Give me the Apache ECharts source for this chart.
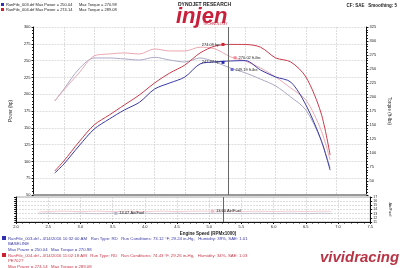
<!DOCTYPE html>
<html><head><meta charset="utf-8">
<script src="https://cdn.jsdelivr.net/npm/echarts@6/dist/echarts.min.js"></script>
<style>html,body{margin:0;padding:0;background:#fff}#c{width:400px;height:268px}</style>
</head><body><div id="c"></div>
<script>
const rpm = [2.35,2.5,2.75,3.0,3.25,3.5,3.75,4.0,4.25,4.5,4.75,5.0,5.25,5.5,5.75,6.0,6.25,6.5,6.75,6.9];
const powerRun1 = [82.7,96,123,148,163,176.5,188,207.7,216.7,225.6,245,248,249.4,250.0,236,225.6,218,184,132,87];
const powerRun2 = [85.7,100.6,128.9,154.2,169,184,199,216.7,231.5,243.4,261.3,271.7,274.1,274,270,254,248,225.6,172,109.5];
const torqueRun1 = [192.9,214,250,269.7,269.7,268,266,270.9,266,262.5,269.7,262.5,251.8,243,232,219.7,200,176.8,123,73];
const torqueRun2 = [192.9,212.5,242.9,273.3,276.8,278.6,276.8,285.8,282.2,282.2,289.0,285.8,272,264,251.8,235.7,216,194.7,141,87.5];
const afrRun1 = [13.0,13.1,13.0,13.1,13.0,13.1,13.0,13.1,13.0,13.1,13.0,13.07,13.1,13.0,13.1,13.0,13.1,13.0,13.1,13.0];
const afrRun2 = [13.4,13.5,13.6,13.5,13.6,13.5,13.6,13.5,13.6,13.5,13.6,13.6,13.6,13.5,13.6,13.5,13.6,13.5,13.6,13.5];
const xTicks = {min:2, max:7.5, step:0.5};
const powerTicks = {min:50, max:300, step:25};
const torqueTicks = {min:25, max:325, step:25};
const afrTicks = {min:11, max:17, step:1};
const cursorRpm = 5.22;

const pair = (xs, ys) => xs.map((x,i)=>[x, ys[i]]);
const F = 'Liberation Sans';
const tick = {fontSize:4, color:'#222', fontFamily:F};
const gridLine = {show:true, lineStyle:{color:'#c8c8c8', type:[2,1], width:0.6}};
const axisBlack = {show:true, lineStyle:{color:'#111', width:1}};

function mk(name, color, yAxisIndex, xAxisIndex, data, width, extra){
  return Object.assign({type:'line', name, xAxisIndex, yAxisIndex, data, showSymbol:false, symbol:'none',
    smooth:0.3, lineStyle:{color, width}, itemStyle:{color}, z:3, animation:false}, extra||{});
}
function markAt(x, y, color, text, pos){
  return {symbol:'rect', symbolSize:3, animation:false,
    itemStyle:{color}, data:[{coord:[x,y], value:text,
    label:{show:true, formatter:text, position:pos, fontSize:4, color:'#222', fontFamily:F, distance:2}}]};
}

const option = {
  animation:false,
  grid:[
    {left:16, right:17, top:27, height:168},
    {left:16, right:17, top:197, height:25, show:true, borderColor:'#999', borderWidth:0.8}
  ],
  xAxis:[
    {type:'value', gridIndex:0, min:xTicks.min, max:xTicks.max, interval:xTicks.step,
     axisLabel:{show:false}, axisTick:{show:false}, splitLine:gridLine,
     axisLine:{show:true, lineStyle:{color:'#999', width:2}}},
    {type:'value', gridIndex:1, min:xTicks.min, max:xTicks.max, interval:xTicks.step,
     axisLabel:Object.assign({formatter:v=>v.toFixed(1), margin:3}, tick),
     axisTick:{show:true, length:2, lineStyle:{color:'#111'}},
     minorTick:{show:true, splitNumber:5, length:1.5, lineStyle:{color:'#111'}},
     splitLine:gridLine, axisLine:axisBlack,
     name:'Engine Speed (RPMx1000)', nameLocation:'middle', nameGap:9,
     nameTextStyle:{fontSize:4.5, color:'#222', fontFamily:F, fontWeight:'bold', padding:[0,0,0,30]}}
  ],
  yAxis:[
    {type:'value', gridIndex:0, min:powerTicks.min, max:powerTicks.max, interval:powerTicks.step,
     axisLabel:Object.assign({margin:3}, tick), axisLine:axisBlack,
     axisTick:{show:true, length:2, lineStyle:{color:'#111'}},
     minorTick:{show:true, splitNumber:5, length:1.5, lineStyle:{color:'#111'}},
     splitLine:gridLine,
     name:'Power (hp)', nameLocation:'middle', nameGap:10, nameRotate:90,
     nameTextStyle:{fontSize:4.5, color:'#222', fontFamily:F}},
    {type:'value', gridIndex:0, position:'right', min:torqueTicks.min, max:torqueTicks.max, interval:torqueTicks.step,
     axisLabel:Object.assign({margin:3, showMinLabel:false}, tick), axisLine:axisBlack,
     axisTick:{show:true, length:2, inside:false, lineStyle:{color:'#111'}},
     minorTick:{show:true, splitNumber:5, length:1.5, lineStyle:{color:'#111'}},
     splitLine:{show:false},
     name:'Torque (ft-lbs)', nameLocation:'middle', nameGap:11, nameRotate:-90,
     nameTextStyle:{fontSize:4.5, color:'#222', fontFamily:F}},
    {type:'value', gridIndex:1, min:afrTicks.min, max:afrTicks.max, interval:afrTicks.step,
     axisLabel:{show:false}, axisLine:axisBlack,
     axisTick:{show:true, length:2, lineStyle:{color:'#111'}},
     minorTick:{show:true, splitNumber:2, length:1.5, lineStyle:{color:'#111'}},
     splitLine:gridLine},
    {type:'value', gridIndex:1, position:'right', min:afrTicks.min, max:afrTicks.max, interval:afrTicks.step,
     axisLabel:Object.assign({margin:3}, tick, {fontSize:3.5}), axisLine:axisBlack,
     axisTick:{show:true, length:2, lineStyle:{color:'#111'}},
     splitLine:{show:false},
     name:'Air/Fuel', nameLocation:'middle', nameGap:11, nameRotate:-90,
     nameTextStyle:{fontSize:4, color:'#222', fontFamily:F}}
  ],
  series:[
    mk('Torque 003', '#a9a9c6', 1, 0, pair(rpm, torqueRun1), 1,
      {markPoint:markAt(5.28, 249.19, '#6b6bd6', '249.19 ft-lbs', 'right')}),
    mk('Torque 004', '#eaa7b0', 1, 0, pair(rpm, torqueRun2), 1,
      {markPoint:markAt(5.33, 270.02, '#f08a9a', '270.02 ft-lbs', 'right')}),
    mk('Power 003', '#3a3aa6', 0, 0, pair(rpm, powerRun1), 1,
      {markPoint:markAt(5.13, 247.37, '#2a2ab0', '247.37 hp', 'left'),
       markLine:{silent:true, symbol:'none', animation:false, label:{show:false},
         lineStyle:{color:'#666', width:1, type:'solid'}, data:[{xAxis:cursorRpm}]}}),
    mk('Power 004', '#c8394a', 0, 0, pair(rpm, powerRun2), 1,
      {markPoint:markAt(5.13, 274.09, '#d0202a', '274.09 hp', 'left')}),
    mk('AFR 003', '#b8b8c8', 2, 1, pair(rpm, afrRun1), 0.8,
      {markPoint:markAt(3.55, 13.07, '#b8b8c8', '13.07 Air/Fuel', 'right'),
       markLine:{silent:true, symbol:'none', animation:false, label:{show:false},
         lineStyle:{color:'#666', width:1, type:'solid'}, data:[{xAxis:cursorRpm}]}}),
    mk('AFR 004', '#ecc0c6', 2, 1, pair(rpm, afrRun2), 0.8,
      {markPoint:markAt(5.05, 13.6, '#ecc0c6', '13.60 Air/Fuel', 'right')})
  ],
  graphic:[
    {type:'rect', left:1, top:3, shape:{width:3, height:3}, style:{fill:'#3030b0'}},
    {type:'rect', left:1, top:8, shape:{width:3, height:3}, style:{fill:'#d02030'}},
    {type:'text', left:6, top:3, style:{text:'RunFile_003.drf Max Power = 250.04      Max Torque = 270.98', fontSize:4, fill:'#222', fontFamily:F}},
    {type:'text', left:6, top:8, style:{text:'RunFile_004.drf Max Power = 274.14      Max Torque = 289.08', fontSize:4, fill:'#222', fontFamily:F}},
    {type:'text', left:178, top:2, style:{text:'DYNOJET RESEARCH', fontSize:5, fontWeight:'bold', fill:'#222', fontFamily:F}},
    {type:'text', left:176, top:6, style:{text:'injen', fontSize:22, fontWeight:'bold', fontStyle:'italic', fill:'#c8203a', fontFamily:F}},
    {type:'text', left:203, top:22, style:{text:'TECHNOLOGY', fontSize:3.5, fill:'#c8203a', fontFamily:F}},
    {type:'text', right:3, top:3, style:{text:'CF: SAE   Smoothing: 5', fontSize:4.5, fontWeight:'bold', fill:'#222', fontFamily:F}},
    {type:'rect', left:2, top:236, shape:{width:4, height:4}, style:{fill:'#3030b0'}},
    {type:'text', left:8, top:236, style:{text:'RunFile_003.drf - 4/14/2016 10:32:00 AM   Run Type: RD   Run Conditions: 73.12 °F, 29.24 in-Hg,   Humidity: 39%, SAE: 1.01\nBASELINE\nMax Power = 250.04   Max Torque = 270.98', fontSize:4.3, lineHeight:5.5, fill:'#3a3aa6', fontFamily:F}},
    {type:'rect', left:2, top:253, shape:{width:4, height:4}, style:{fill:'#d02030'}},
    {type:'text', left:8, top:253, style:{text:'RunFile_004.drf - 4/14/2016 11:02:18 AM   Run Type: RD   Run Conditions: 74.43 °F, 29.26 in-Hg,   Humidity: 34%, SAE: 1.03\nPE702?\nMax Power = 274.14   Max Torque = 289.08', fontSize:4.3, lineHeight:5.5, fill:'#c8394a', fontFamily:F}},
    {type:'text', left:320, top:250, style:{text:'vividracing', fontSize:15, fontWeight:'bold', fontStyle:'italic', fill:'#b83545', fontFamily:F}}
  ]
};
echarts.init(document.getElementById('c'), null, {renderer:'canvas'}).setOption(option);
</script></body></html>
